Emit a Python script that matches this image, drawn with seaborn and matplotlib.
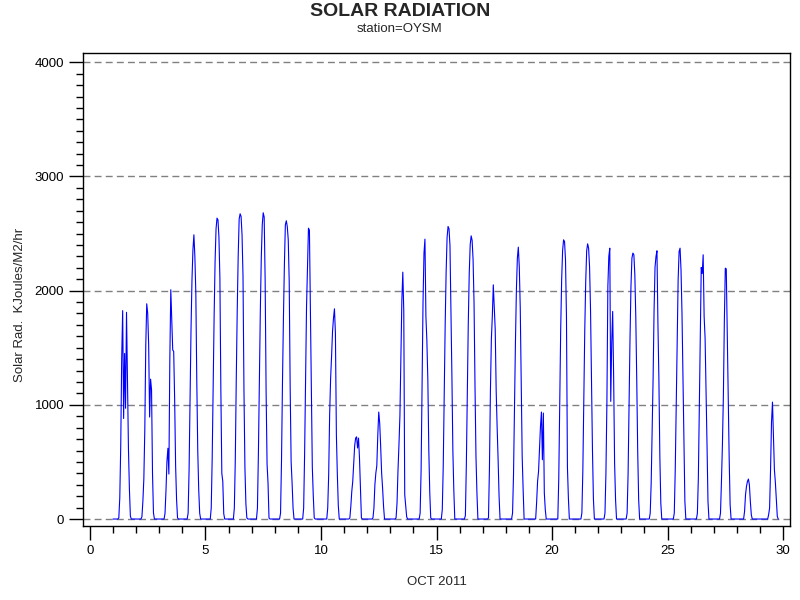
import numpy as np
import pandas as pd
import matplotlib
matplotlib.use('Agg')
import matplotlib.pyplot as plt
from matplotlib.ticker import MultipleLocator
import seaborn as sns

# hourly solar radiation, Oct 2011, station OYSM
# each list = daylight values starting at 06:00, the rest of the day is 0
first_hour = 6
day1 = [10, 185, 640, 1410, 1825, 880, 1450, 970, 1810, 1240, 620, 265, 25]
day2 = [20, 155, 353, 782, 1520, 1885, 1803, 1526, 893, 1225, 1132, 400, 53]
day3 = [50, 250, 505, 620, 394, 1400, 2008, 1745, 1480, 1468, 1050, 467, 170, 10]
day4 = [52, 432, 1060, 1657, 2095, 2358, 2489, 2300, 1978, 1205, 600, 257, 52]
day5 = [96, 534, 1161, 1774, 2256, 2541, 2635, 2620, 2469, 2110, 1126, 400, 330, 47]
day6 = [96, 519, 1220, 1824, 2300, 2626, 2673, 2650, 2489, 2130, 1126, 450, 134, 10]
day7 = [96, 572, 1228, 1824, 2290, 2577, 2682, 2644, 2095, 1118, 480, 315, 10]
day8 = [52, 510, 1190, 1760, 2226, 2577, 2612, 2560, 2445, 2080, 1147, 500, 315, 96]
day9 = [96, 569, 1190, 1862, 2206, 2547, 2530, 1867, 1147, 455, 204, 10]
day10 = [0, 96, 388, 913, 1228, 1424, 1643, 1760, 1841, 1628, 738, 388, 117]
day11 = [10, 111, 242, 330, 490, 642, 709, 720, 622, 709, 534, 257, 10]
day12 = [10, 96, 300, 403, 467, 730, 937, 840, 636, 403, 271, 111]
day13 = [10, 140, 426, 650, 905, 1386, 1911, 2162, 1824, 213, 117, 20]
day14 = [0, 52, 423, 1138, 1897, 2329, 2451, 1774, 1560, 1220, 607, 233, 10]
day15 = [82, 461, 1088, 1695, 2162, 2466, 2562, 2542, 2393, 1850, 1255, 598, 248]
day16 = [30, 476, 1103, 1707, 2148, 2402, 2480, 2440, 2270, 1891, 1161, 549, 228]
day17 = [10, 446, 1118, 1576, 1780, 2051, 1862, 1657, 1118, 800, 519, 198]
day18 = [0, 52, 388, 957, 1547, 2008, 2285, 2381, 2206, 1847, 1176, 549, 257]
day19 = [0, 0, 146, 330, 417, 607, 811, 937, 519, 928, 228, 82]
day20 = [0, 353, 1010, 1657, 2095, 2352, 2445, 2430, 2270, 1774, 455, 184]
day21 = [0, 52, 417, 1045, 1650, 2080, 2350, 2410, 2372, 2206, 1832, 1228, 607, 175]
day22 = [0, 52, 403, 1016, 2037, 2300, 2372, 1030, 1541, 1818, 1249, 490, 169]
day23 = [52, 388, 986, 1576, 2037, 2285, 2329, 2315, 2145, 1774, 1220, 592, 169]
day24 = [52, 315, 767, 1234, 1827, 2206, 2300, 2349, 1716, 1234, 549, 140]
day25 = [0, 52, 432, 1001, 1570, 2095, 2343, 2372, 2180, 1803, 1234, 607, 155]
day26 = [0, 52, 359, 951, 1520, 2203, 2150, 2314, 1774, 1585, 1138, 650, 155]
day27 = [0, 52, 330, 650, 1080, 1730, 2197, 2190, 1643, 1132, 540, 126]
day28 = [0, 0, 67, 213, 286, 330, 350, 300, 155, 38]
day29 = [0, 0, 0, 38, 96, 432, 849, 1024, 730, 432, 321, 169, 23]
last_day_hours = 20

days = [day1, day2, day3, day4, day5, day6, day7, day8, day9, day10,
        day11, day12, day13, day14, day15, day16, day17, day18, day19, day20,
        day21, day22, day23, day24, day25, day26, day27, day28, day29]

rows = []
for d, vals in enumerate(days, start=1):
    hours = last_day_hours if d == len(days) else 24
    for h in range(hours):
        i = h - first_hour
        v = vals[i] if 0 <= i < len(vals) else 0
        rows.append((d + h / 24, v))
df = pd.DataFrame(rows, columns=['day', 'rad'])

sns.set_style('ticks')
plt.rcParams['font.family'] = ['Liberation Sans', 'DejaVu Sans']

fig = plt.figure(figsize=(8, 6), dpi=100)
ax = fig.add_axes([83/800, 1 - 526/600, (790-83)/800, (526-53)/600])

for y in range(0, 4001, 1000):
    ax.axhline(y, color='#808080', lw=1, ls=(0, (5, 3)), zorder=1)

sns.lineplot(data=df, x='day', y='rad', color='#0000ff', lw=0.8, ax=ax, zorder=2)

ax.set_xlim(-0.3, 30.3)
ax.set_ylim(-61, 4081)
ax.set_xticks(range(0, 31, 5))
ax.xaxis.set_minor_locator(MultipleLocator(1))
ax.set_yticks(range(0, 4001, 1000))
ax.yaxis.set_minor_locator(MultipleLocator(100))
ax.tick_params(which='major', length=10, width=1, labelsize=9.5, color='black', labelcolor='black')
ax.tick_params(which='minor', length=5, width=1, color='black')
for s in ax.spines.values():
    s.set_linewidth(1)
    s.set_color('black')

ax.set_xlabel('OCT 2011', fontsize=9.5, labelpad=14)
ax.set_ylabel('Solar Rad.  KJoules/M2/hr', fontsize=9.5)
ax.yaxis.set_label_coords(-0.081, 0.467)

fig.text(0.5, 1 - 11/600, 'SOLAR RADIATION', ha='center', va='center', fontsize=14, fontweight='bold')
fig.text(0.5, 1 - 29/600, 'station=OYSM', ha='center', va='center', fontsize=9.5)

fig.savefig('out.png', dpi=100)
